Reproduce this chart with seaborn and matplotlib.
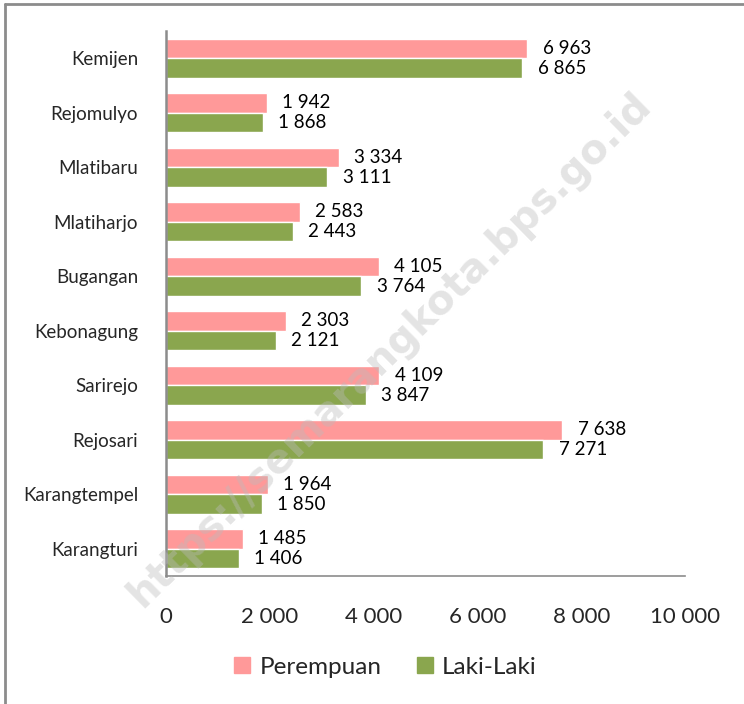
import pandas as pd
import matplotlib.pyplot as plt
import seaborn as sns
from matplotlib.lines import Line2D

# data
kelurahan = ['Kemijen', 'Rejomulyo', 'Mlatibaru', 'Mlatiharjo', 'Bugangan',
             'Kebonagung', 'Sarirejo', 'Rejosari', 'Karangtempel', 'Karangturi']
perempuan = [6963, 1942, 3334, 2583, 4105, 2303, 4109, 7638, 1964, 1485]
laki_laki = [6865, 1868, 3111, 2443, 3764, 2121, 3847, 7271, 1850, 1406]
x_ticks = [0, 2000, 4000, 6000, 8000, 10000]

df = pd.DataFrame({'Kelurahan': kelurahan * 2,
                   'Jumlah': perempuan + laki_laki,
                   'Jenis': ['Perempuan'] * 10 + ['Laki-Laki'] * 10})

sns.set_style('white')
plt.rcParams['font.family'] = ['Lato', 'DejaVu Sans']

fig = plt.figure(figsize=(7.44, 7.04), dpi=100)
ax = fig.add_axes([166 / 744, 1 - 576 / 704, (685 - 166) / 744, (576 - 31) / 704])

palette = {'Perempuan': '#FF9999', 'Laki-Laki': '#8AA64E'}
sns.barplot(data=df, y='Kelurahan', x='Jumlah', hue='Jenis', palette=palette,
            orient='h', width=0.72, ax=ax, legend=False, saturation=1)

fmt = lambda v: f'{v:,.0f}'.replace(',', ' ')
for cont in ax.containers:
    ax.bar_label(cont, labels=[fmt(v) for v in cont.datavalues], padding=11,
                 fontsize=13.5, color='black')

ax.set_xlim(0, 10000)
ax.set_xticks(x_ticks)
ax.set_xticklabels([fmt(v) for v in x_ticks], fontsize=16)
ax.tick_params(axis='x', pad=22, length=0)
ax.tick_params(axis='y', labelsize=13.5, length=0, pad=20)
ax.set_xlabel('')
ax.set_ylabel('')
for s in ['top', 'right']:
    ax.spines[s].set_visible(False)
for s in ['left', 'bottom']:
    ax.spines[s].set_color('#8C8C8C')
ax.spines['left'].set_linewidth(1.8)
ax.spines['bottom'].set_linewidth(1.2)

handles = [Line2D([], [], marker='s', linestyle='', markersize=12,
                  color=palette[k]) for k in ['Perempuan', 'Laki-Laki']]
fig.legend(handles, ['Perempuan', 'Laki-Laki'], loc='center',
           bbox_to_anchor=(380 / 744, 1 - 667 / 704), ncol=2, frameon=False,
           fontsize=17.5, handletextpad=-0.1, columnspacing=1.0,
           handlelength=1.6)

# watermark
fig.text(390 / 744, 1 - 350 / 704, 'https://semarangkota.bps.go.id',
         rotation=44.5, fontsize=29, fontweight='bold', color='#BBBBBB',
         alpha=0.4, ha='center', va='center', zorder=10,
         family=['DejaVu Sans'])

# frame lines on top and left
fig.add_artist(Line2D([5 / 744, 5 / 744], [0, 1 - 4 / 704], color='#8C8C8C', lw=2))
fig.add_artist(Line2D([5 / 744, 1], [1 - 4 / 704, 1 - 4 / 704], color='#8C8C8C', lw=2))

fig.savefig('out.png', dpi=100)
